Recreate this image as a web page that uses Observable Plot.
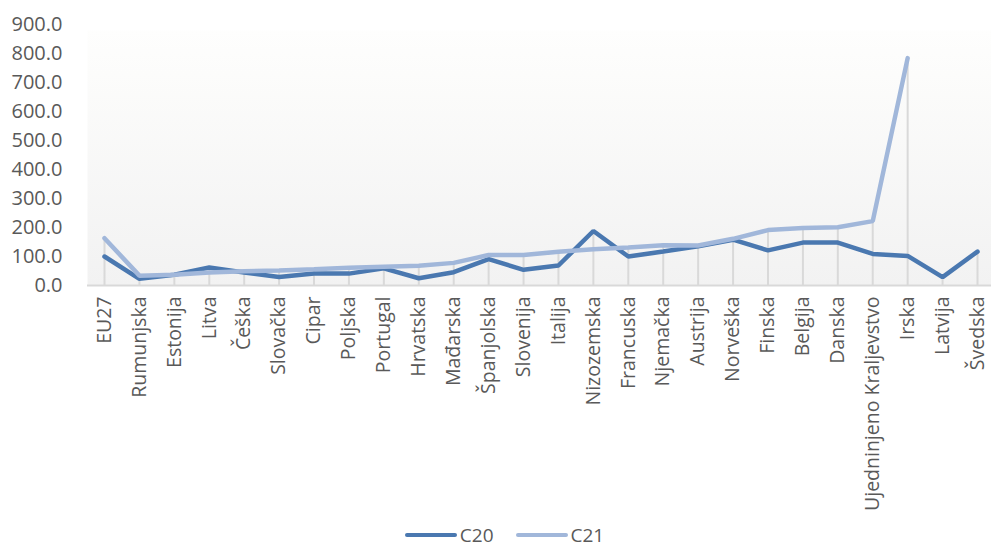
<!DOCTYPE html>
<html>
<head>
<meta charset="utf-8">
<script src="https://cdn.jsdelivr.net/npm/d3@7"></script>
<script src="https://cdn.jsdelivr.net/npm/@observablehq/plot@0.6"></script>
<style>
  html, body { margin: 0; padding: 0; background: #ffffff; overflow: hidden; }
  body { width: 991px; height: 550px; font-family: "Open Sans", sans-serif; }
  #chart svg { display: block; }
  #legend { display: flex; justify-content: center; align-items: center; gap: 22px; height: 30px; color: #595959; font-size: 19px; padding-left: 18px; }
  .item { display: flex; align-items: center; gap: 3px; }
  .sw { width: 52px; height: 4px; border-radius: 2px; }
</style>
</head>
<body>
<div id="chart"></div>
<div id="legend"></div>
<script>
const categories = ["EU27","Rumunjska","Estonija","Litva","Češka","Slovačka","Cipar","Poljska","Portugal","Hrvatska","Mađarska","Španjolska","Slovenija","Italija","Nizozemska","Francuska","Njemačka","Austrija","Norveška","Finska","Belgija","Danska","Ujedninjeno Kraljevstvo","Irska","Latvija","Švedska"];
const c20 = [100, 23, 37, 62, 45, 29, 41, 41, 59, 25, 46, 91, 54, 69, 188, 100, 117, 135, 158, 121, 148, 148, 109, 102, 29, 117];
const c21 = [163, 34, 37, 45, 49, 52, 56, 61, 65, 68, 78, 105, 105, 116, 125, 131, 139, 138, 161, 191, 198, 201, 222, 784, null, null];
const seriesNames = ["C20", "C21"];
const seriesColors = ["#4a78b0", "#a1b7da"];
const yTicks = [0, 100, 200, 300, 400, 500, 600, 700, 800, 900];

const rows = [];
categories.forEach((c, i) => {
  rows.push({cat: c, series: "C20", v: c20[i]});
  if (c21[i] != null) rows.push({cat: c, series: "C21", v: c21[i]});
});
const drops = categories.map((c, i) => ({cat: c, top: Math.max(c20[i] ?? 0, c21[i] ?? 0)}));

const plot = Plot.plot({
  width: 991,
  height: 520,
  marginLeft: 87,
  marginRight: 0,
  marginTop: 30,
  marginBottom: 235,
  style: {fontFamily: "Open Sans, sans-serif", fontSize: "20px", color: "#595959", background: "transparent", maxWidth: "none"},
  x: {type: "point", domain: categories, range: [104, 977], padding: 0, round: false, label: null},
  y: {domain: [0, 900], range: [285, 24], label: null},
  color: {domain: seriesNames, range: seriesColors},
  marks: [
    Plot.frame({fill: "url(#bg)", stroke: "none"}),
    Plot.ruleX(drops, {x: "cat", y1: 0, y2: "top", stroke: "#d9d9d9", strokeWidth: 2}),
    Plot.ruleY([0], {stroke: "#d9d9d9", strokeWidth: 2}),
    Plot.line(rows, {x: "cat", y: "v", z: "series", stroke: "series", strokeWidth: 4.5, curve: "linear", strokeLinejoin: "miter"}),
    Plot.axisY({ticks: yTicks, tickFormat: d => d.toFixed(1), tickSize: 0, tickPadding: 25, fill: "#595959", fontSize: 20}),
    Plot.axisX({tickRotate: -90, tickSize: 0, tickPadding: 11, fill: "#595959", fontSize: 19.5})
  ]
});

const ns = "http://www.w3.org/2000/svg";
const defs = document.createElementNS(ns, "defs");
defs.innerHTML = '<linearGradient id="bg" x1="0" y1="0" x2="0" y2="1"><stop offset="0" stop-color="#fefefd"/><stop offset="1" stop-color="#f2f2f2"/></linearGradient>';
plot.insertBefore(defs, plot.firstChild);
document.getElementById("chart").appendChild(plot);

const legend = document.getElementById("legend");
seriesNames.forEach((s, i) => {
  const it = document.createElement("div");
  it.className = "item";
  const sw = document.createElement("div");
  sw.className = "sw";
  sw.style.background = seriesColors[i];
  const t = document.createElement("span");
  t.textContent = s;
  it.appendChild(sw); it.appendChild(t);
  legend.appendChild(it);
});
</script>
</body>
</html>
